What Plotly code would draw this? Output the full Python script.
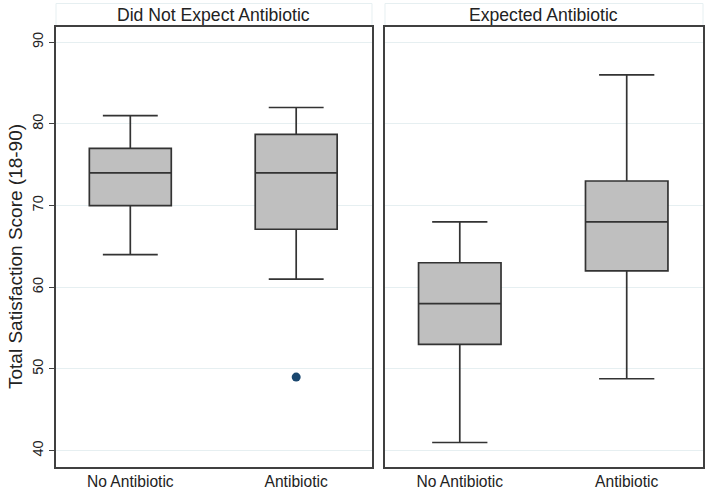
import plotly.graph_objects as go

# ---- data ----
panels = ["Did Not Expect Antibiotic", "Expected Antibiotic"]
groups = ["No Antibiotic", "Antibiotic"]
# per panel: [No Antibiotic, Antibiotic]
lower_whisker = [[64, 61], [41, 48.8]]
q1 = [[70, 67.1], [53, 62]]
median = [[74, 74], [58, 68]]
q3 = [[77, 78.7], [63, 73]]
upper_whisker = [[81, 82], [68, 86]]
outlier_group = ["Antibiotic"]
outlier_value = [49]
outlier_panel = [0]
y_ticks = [40, 50, 60, 70, 80, 90]

FONT = "Liberation Sans, Arial, sans-serif"
FRAME = "#404040"
GRID = "#e6eff1"
BOXLINE = "#333333"
BOXFILL = "#bfbfbf"
NAVY = "#1a476f"

fig = go.Figure()
for p in range(2):
    xa = "x" if p == 0 else "x2"
    ya = "y" if p == 0 else "y2"
    for g, name in enumerate(groups):
        fig.add_trace(go.Box(
            x=[name], q1=[q1[p][g]], median=[median[p][g]], q3=[q3[p][g]],
            lowerfence=[lower_whisker[p][g]], upperfence=[upper_whisker[p][g]],
            xaxis=xa, yaxis=ya, width=0.494, whiskerwidth=0.67,
            fillcolor=BOXFILL, line=dict(color=BOXLINE, width=1.7),
            boxpoints=False, showlegend=False, hoverinfo="skip",
        ))
for gname, val, p in zip(outlier_group, outlier_value, outlier_panel):
    fig.add_trace(go.Scatter(
        x=[gname], y=[val], mode="markers",
        xaxis="x" if p == 0 else "x2", yaxis="y" if p == 0 else "y2",
        marker=dict(color=NAVY, size=9), showlegend=False, hoverinfo="skip",
    ))

d1 = [0.0, 0.4884]
d2 = [0.5085, 1.0]
xcommon = dict(
    type="category", categoryorder="array", categoryarray=groups,
    range=[-0.448, 1.457], showgrid=False, zeroline=False,
    showline=True, mirror=True, linecolor=FRAME, linewidth=1.5,
    ticks="", tickfont=dict(family=FONT, size=15.6, color="#222"),
    automargin=False,
)
ycommon = dict(
    range=[38.0, 91.85], tickvals=y_ticks, showgrid=True, gridcolor=GRID,
    gridwidth=1, zeroline=False, showline=True, mirror=True,
    linecolor=FRAME, linewidth=1.5, automargin=False,
)

fig.update_layout(
    width=705, height=491,
    margin=dict(l=56, r=2, t=27, b=24),
    paper_bgcolor="white", plot_bgcolor="white",
    font=dict(family=FONT, color="#222"),
    xaxis=dict(domain=d1, anchor="y", **xcommon),
    xaxis2=dict(domain=d2, anchor="y2", **xcommon),
    yaxis=dict(anchor="x", ticks="outside", ticklen=5, tickcolor=FRAME,
               tickwidth=1, tickangle=-90,
               tickfont=dict(family=FONT, size=14.5, color="#222"),
               **ycommon),
    yaxis2=dict(anchor="x2", matches="y", showticklabels=False, ticks="",
                **ycommon),
)

# title strips
plot_h = 491 - 27 - 24
y0 = 1 + 1 / plot_h
y1 = 1 + 23.5 / plot_h
for p, (dom, title) in enumerate(zip([d1, d2], panels)):
    fig.add_shape(type="rect", xref="paper", yref="paper",
                  x0=dom[0], x1=dom[1], y0=y0, y1=y1,
                  line=dict(color=GRID, width=1), fillcolor="white", layer="below")
    fig.add_annotation(text=title, xref="paper", yref="paper",
                       x=(dom[0] + dom[1]) / 2, y=(y0 + y1) / 2,
                       showarrow=False, xanchor="center", yanchor="middle",
                       font=dict(family=FONT, size=17.6, color="#222"))

fig.add_annotation(text="Total Satisfaction Score (18-90)", xref="paper", yref="paper",
                   x=-41 / 647, y=1 - (257 - 27) / plot_h, xanchor="center", yanchor="middle",
                   textangle=-90, showarrow=False,
                   font=dict(family=FONT, size=19, color="#222"))

fig.write_html("out.html", config={"displayModeBar": False},
               post_script="document.body.style.margin='0';document.body.style.overflow='hidden';")
